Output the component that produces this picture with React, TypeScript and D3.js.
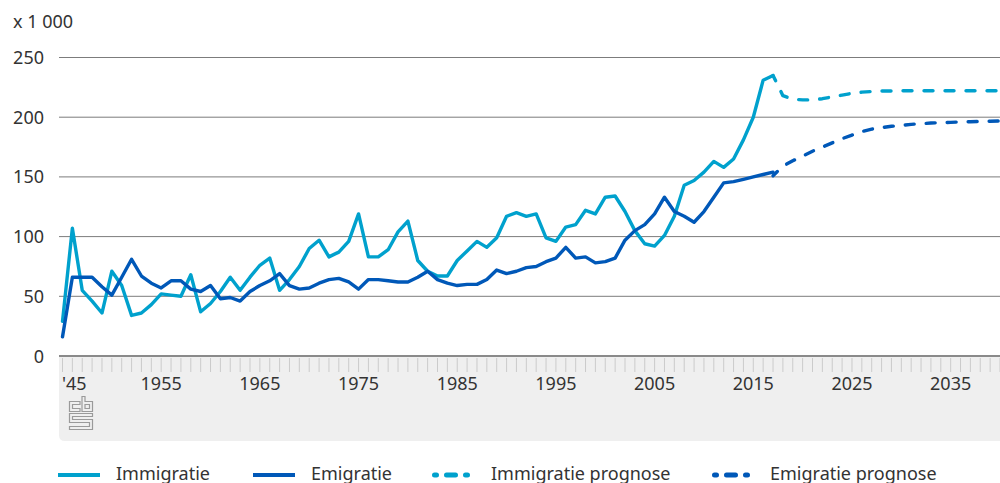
import React from 'react';
import * as d3 from 'd3';

// ---- data (x 1 000) ----
const actualStartYear = 1945;
const immigratie = [
  29, 107, 55, 46, 36, 71, 59, 34, 36, 43,
  52, 51, 50, 68, 37, 44, 54, 66, 55, 66,
  76, 82, 55, 64, 75, 90, 97, 83, 87, 96,
  119, 83, 83, 89, 104, 113, 80, 71, 67, 67,
  80, 88, 96, 91, 99, 117, 120, 117, 119, 99,
  96, 108, 110, 122, 119, 133, 134, 121, 105, 94,
  92, 101, 117, 143, 147, 154, 163, 158, 165, 181,
  200, 231, 235,
];
const emigratie = [
  16, 66, 66, 66, 58, 51, 66, 81, 67, 61,
  57, 63, 63, 56, 54, 59, 48, 49, 46, 54,
  59, 63, 69, 59, 56, 57, 61, 64, 65, 62,
  56, 64, 64, 63, 62, 62, 66, 71, 64, 61,
  59, 60, 60, 64, 72, 69, 71, 74, 75, 79,
  82, 91, 82, 83, 78, 79, 82, 97, 105, 110,
  119, 133, 121, 117, 112, 121, 133, 145, 146, 148,
  150, 152, 154,
];
const prognoseStartYear = 2017;
const immigratiePrognose = [
  235, 218, 215, 214.5, 214.5, 215.5, 217, 218.5, 220, 221,
  221.5, 222, 222, 222.2, 222.2, 222.2, 222.2, 222.2, 222.2, 222.2,
  222.2, 222.2, 222.1, 222.1,
];
const emigratiePrognose = [
  151, 159, 163.5, 167.5, 171.5, 175, 178.5, 182, 185, 188,
  190, 191.3, 192.4, 193.2, 194, 194.6, 195.1, 195.4, 195.7, 196,
  196.2, 196.4, 196.6, 196.8,
];
const yTicks = [0, 50, 100, 150, 200, 250];
const xTickYears = [1945, 1955, 1965, 1975, 1985, 1995, 2005, 2015, 2025, 2035];
const xTickLabels = ["'45", '1955', '1965', '1975', '1985', '1995', '2005', '2015', '2025', '2035'];
const legendLabels = ['Immigratie', 'Emigratie', 'Immigratie prognose', 'Emigratie prognose'];

const LIGHT = '#00a1cd';
const DARK = '#0058b8';
const TEXT = '#333333';
const FONT = '"Noto Sans", "Open Sans", sans-serif';

const W = 1000;
const H = 483;
const x = d3.scaleLinear().domain([1945, 2040]).range([62.5, 1000]);
const y = d3.scaleLinear().domain([0, 250]).range([356, 57.5]);

type Pt = [number, number];
const toPts = (start: number, vals: number[]): Pt[] => vals.map((v, i) => [start + i, v]);
const line = d3
  .line<Pt>()
  .x((d) => x(d[0]))
  .y((d) => y(d[1]));

const allYears = d3.range(1945, 2041);

function CbsLogo() {
  const s = { fill: 'none', stroke: '#9a9a9a', strokeWidth: 1.2 };
  return (
    <g>
      <path d="M80,401.5 H69.5 V411.5 H80 V408.5 H72.5 V404.5 H80 Z" {...s} />
      <path d="M82,396.5 H85 V401.5 H92.5 V411.5 H82 Z M85,404.5 H89.5 V408.5 H85 Z" {...s} />
      <path d="M69.5,413.5 H92.5 V416.5 H72.5 V419.5 H92.5 V429.5 H69.5 V426.5 H89.5 V422.5 H69.5 Z" {...s} />
    </g>
  );
}

export default function App() {
  const immPts = toPts(actualStartYear, immigratie);
  const emiPts = toPts(actualStartYear, emigratie);
  const immProg = toPts(prognoseStartYear, immigratiePrognose);
  const emiProg = toPts(prognoseStartYear, emigratiePrognose);

  const lineStyle = {
    fill: 'none',
    strokeWidth: 3.4,
    strokeLinejoin: 'round' as const,
    strokeLinecap: 'round' as const,
  };
  const dashStyle = { ...lineStyle, strokeDasharray: '9 12', strokeDashoffset: 3 };

  const legendY = 475;
  const legendTextY = 480;
  const legendDash = '2 10 9 10 2 10';

  return (
    <svg
      width={W}
      height={H}
      viewBox={`0 0 ${W} ${H}`}
      style={{ position: 'absolute', left: 0, top: 0, background: '#fff' }}
      fontFamily={FONT}
    >
      {/* unit label */}
      <text x={13} y={28} fontSize={18} fill={TEXT}>
        x 1 000
      </text>

      {/* x-axis band */}
      <path d="M59,357 H1005 V441 H65 Q59,441 59,435 Z" fill="#efefef" />
      {allYears.map((yr) => (
        <line key={yr} x1={x(yr)} x2={x(yr)} y1={358} y2={372} stroke="#cbcbcb" strokeWidth={1} />
      ))}
      {xTickYears.map((yr, i) => (
        <text
          key={yr}
          x={i === 0 ? x(yr) - 0.5 : x(yr)}
          y={390}
          fontSize={18}
          fill={TEXT}
          textAnchor={i === 0 ? 'start' : 'middle'}
        >
          {xTickLabels[i]}
        </text>
      ))}
      <CbsLogo />

      {/* gridlines + y labels */}
      {yTicks.map((t) => (
        <g key={t}>
          <line
            x1={59}
            x2={W}
            y1={y(t)}
            y2={y(t)}
            stroke={t === 0 ? '#8a8a8a' : '#7c7c7c'}
            strokeWidth={t === 0 ? 2 : 1}
          />
          <text x={44} y={y(t) + 6.5} fontSize={18} fill={TEXT} textAnchor="end">
            {t}
          </text>
        </g>
      ))}

      {/* series */}
      <path d={line(immPts) || ''} stroke={LIGHT} {...lineStyle} />
      <path d={line(emiPts) || ''} stroke={DARK} {...lineStyle} />
      <path d={line(immProg) || ''} stroke={LIGHT} {...dashStyle} />
      <path d={line(emiProg) || ''} stroke={DARK} {...dashStyle} />

      {/* legend */}
      <line x1={58} x2={100} y1={legendY} y2={legendY} stroke={LIGHT} strokeWidth={4} />
      <text x={116} y={legendTextY} fontSize={18} fill={TEXT}>
        {legendLabels[0]}
      </text>
      <line x1={253} x2={295} y1={legendY} y2={legendY} stroke={DARK} strokeWidth={4} />
      <text x={311} y={legendTextY} fontSize={18} fill={TEXT}>
        {legendLabels[1]}
      </text>
      <path
        d={`M434.5,${legendY} H467.5`}
        stroke={LIGHT}
        strokeWidth={5}
        strokeLinecap="round"
        strokeDasharray={legendDash}
      />
      <text x={491} y={legendTextY} fontSize={18} fill={TEXT}>
        {legendLabels[2]}
      </text>
      <path
        d={`M714.5,${legendY} H747.5`}
        stroke={DARK}
        strokeWidth={5}
        strokeLinecap="round"
        strokeDasharray={legendDash}
      />
      <text x={770} y={legendTextY} fontSize={18} fill={TEXT}>
        {legendLabels[3]}
      </text>
    </svg>
  );
}
